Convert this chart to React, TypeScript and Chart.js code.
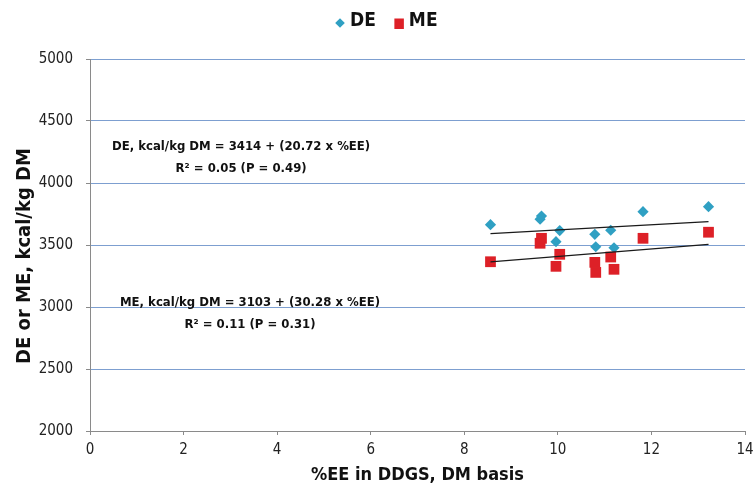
import React, { useEffect, useRef } from "react";
import { Chart, registerables } from "chart.js";

Chart.register(...registerables);

const FONT = "'Liberation Sans Narrow', 'DejaVu Sans Condensed', 'Liberation Sans', sans-serif";

// %EE (x) values for the 11 DDGS samples
const eeValues = [8.56, 9.62, 9.65, 10.04, 9.96, 10.79, 10.81, 11.13, 11.2, 11.82, 13.22];
// DE, kcal/kg DM
const deValues = [3664, 3708, 3734, 3616, 3527, 3586, 3486, 3619, 3478, 3769, 3809];
// ME, kcal/kg DM
const meValues = [3365, 3514, 3554, 3425, 3328, 3360, 3279, 3403, 3304, 3554, 3603];

// Regression line endpoints
const deTrendX = [8.56, 13.22];
const deTrendY = [3592, 3688];
const meTrendX = [8.56, 13.22];
const meTrendY = [3364, 3505];

const yTicks = [2000, 2500, 3000, 3500, 4000, 4500, 5000];
const xTicks = [0, 2, 4, 6, 8, 10, 12, 14];

const deLabel = "DE";
const meLabel = "ME";
const xTitle = "%EE in DDGS, DM basis";
const yTitle = "DE or ME, kcal/kg DM";

const annotationLines = [
  { text: "DE, kcal/kg DM = 3414 + (20.72 x %EE)", x: 3.23, y: 4292 },
  { text: "R² = 0.05 (P = 0.49)", x: 3.23, y: 4114 },
  { text: "ME, kcal/kg DM = 3103 + (30.28 x %EE)", x: 3.42, y: 3032 },
  { text: "R² = 0.11 (P = 0.31)", x: 3.42, y: 2854 },
];

const DE_COLOR = "#2fa0c3";
const ME_COLOR = "#dd2027";

export default function App() {
  const ref = useRef<HTMLCanvasElement | null>(null);

  useEffect(() => {
    if (!ref.current) return;

    const toPts = (xs: number[], ys: number[]) => xs.map((x, i) => ({ x, y: ys[i] }));

    const overlay = {
      id: "overlay",
      afterDraw(chart: any) {
        const { ctx, scales, chartArea } = chart;
        const xs = scales.x;
        const ys = scales.y;
        ctx.save();
        // annotations
        ctx.fillStyle = "#111";
        ctx.font = `bold 13px ${FONT}`;
        ctx.textAlign = "center";
        ctx.textBaseline = "middle";
        annotationLines.forEach((a) => {
          ctx.fillText(a.text, xs.getPixelForValue(a.x), ys.getPixelForValue(a.y));
        });
        // y title
        ctx.save();
        ctx.translate(25, (chartArea.top + chartArea.bottom) / 2 + 11);
        ctx.rotate(-Math.PI / 2);
        ctx.font = `bold 20px ${FONT}`;
        ctx.fillStyle = "#111";
        ctx.textAlign = "center";
        ctx.textBaseline = "middle";
        ctx.fillText(yTitle, 0, 0);
        ctx.restore();
        // legend
        const items = chart.data.datasets.filter((d: any) => d.inLegend);
        let lx = 335;
        const ly = 21;
        ctx.font = `bold 19px ${FONT}`;
        ctx.textAlign = "left";
        ctx.textBaseline = "middle";
        items.forEach((d: any) => {
          ctx.fillStyle = d.backgroundColor;
          if (d.pointStyle === "rectRot") {
            const cx = lx + 5, cy = ly + 2, r = 4.8;
            ctx.beginPath();
            ctx.moveTo(cx, cy - r);
            ctx.lineTo(cx + r, cy);
            ctx.lineTo(cx, cy + r);
            ctx.lineTo(cx - r, cy);
            ctx.closePath();
            ctx.fill();
          } else {
            ctx.fillRect(lx + 0.5, ly - 2.5, 9.5, 10.5);
          }
          ctx.fillStyle = "#111";
          ctx.fillText(d.label, lx + 15, ly);
          const w = ctx.measureText(d.label).width;
          lx += 15 + w + 18;
        });
        ctx.restore();
      },
    };

    const chart = new Chart(ref.current, {
      type: "scatter",
      data: {
        datasets: [
          {
            type: "line",
            label: "DE trend",
            data: toPts(deTrendX, deTrendY),
            borderColor: "#1a1a1a",
            borderWidth: 1.2,
            pointRadius: 0,
            showLine: true,
            fill: false,
            order: 0,
          } as any,
          {
            type: "line",
            label: "ME trend",
            data: toPts(meTrendX, meTrendY),
            borderColor: "#1a1a1a",
            borderWidth: 1.2,
            pointRadius: 0,
            showLine: true,
            fill: false,
            order: 0,
          } as any,
          {
            label: deLabel,
            inLegend: true,
            data: toPts(eeValues, deValues),
            backgroundColor: DE_COLOR,
            borderColor: DE_COLOR,
            borderWidth: 0,
            pointStyle: "rectRot",
            pointRadius: 5.6,
            order: 2,
          } as any,
          {
            label: meLabel,
            inLegend: true,
            data: toPts(eeValues, meValues),
            backgroundColor: ME_COLOR,
            borderColor: ME_COLOR,
            borderWidth: 0,
            pointStyle: "rect",
            pointRadius: 7.6,
            order: 1,
          } as any,
        ],
      },
      options: {
        animation: false,
        responsive: true,
        maintainAspectRatio: false,
        layout: { padding: { top: 59, right: 0, left: 0, bottom: 0 } },
        plugins: {
          legend: { display: false },
          tooltip: { enabled: false },
        },
        scales: {
          x: {
            type: "linear",
            min: 0,
            max: 14,
            afterFit: (s: any) => {
              s.height = 58;
              s.paddingLeft = 0;
              s.paddingRight = 8;
            },
            afterBuildTicks: (s: any) => {
              s.ticks = xTicks.map((v) => ({ value: v }));
            },
            ticks: {
              color: "#222",
              font: { family: FONT, size: 15 },
              padding: 6,
              callback: (v: any) => String(v),
            },
            grid: {
              drawOnChartArea: false,
              drawTicks: true,
              tickLength: 4,
              tickColor: "#8a8a8a",
              color: "#8a8a8a",
            },
            border: { display: true, color: "#8a8a8a", width: 1 },
            title: {
              display: true,
              text: xTitle,
              color: "#111",
              font: { family: FONT, size: 18, weight: "bold" },
              padding: { top: 0, bottom: 3 },
            },
          },
          y: {
            type: "linear",
            min: 2000,
            max: 5000,
            afterFit: (s: any) => {
              s.width = 90;
            },
            afterBuildTicks: (s: any) => {
              s.ticks = yTicks.map((v) => ({ value: v }));
            },
            ticks: {
              color: "#222",
              font: { family: FONT, size: 15 },
              padding: 13,
              callback: (v: any) => String(v),
            },
            grid: {
              color: "#7d9fd0",
              lineWidth: 1,
              borderDash: [1, 2],
              drawTicks: true,
              tickLength: 4,
              tickColor: "#8a8a8a",
              tickBorderDash: [],
            },
            border: { display: true, color: "#8a8a8a", width: 1 },
          },
        },
      },
      plugins: [overlay],
    } as any);

    return () => chart.destroy();
  }, []);

  return (
    <div style={{ position: "absolute", left: 0, top: 0, width: 753, height: 489, background: "#fff" }}>
      <canvas ref={ref} />
    </div>
  );
}
